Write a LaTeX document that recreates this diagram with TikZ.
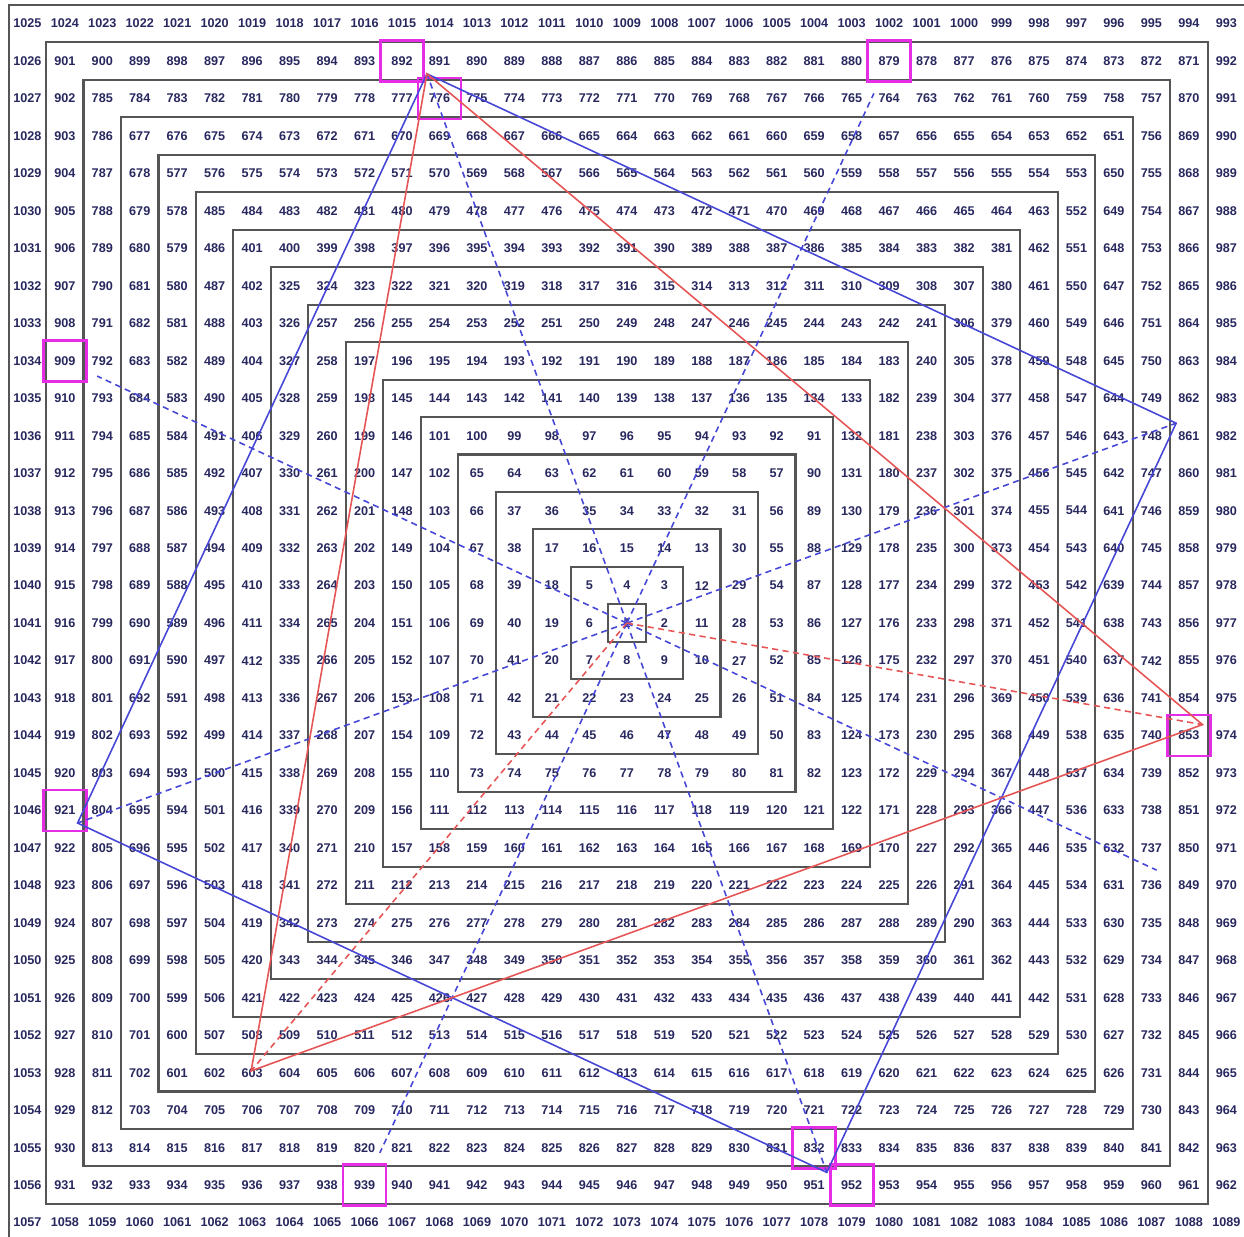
\documentclass[tikz,border=0pt]{standalone}
\usepackage{fontspec}
\setmainfont{Liberation Sans}
\usepackage{tikz}
\usetikzlibrary{calc}

\definecolor{numcol}{RGB}{40,40,95}
\definecolor{ringcol}{RGB}{85,85,85}
\definecolor{sqblue}{RGB}{70,70,215}
\definecolor{trired}{RGB}{230,85,85}
\definecolor{hlmag}{RGB}{230,45,230}

\begin{document}
\begin{tikzpicture}[
    x=0.75cm, y=0.75cm,
    num/.style={font=\fontsize{7.2}{8}\selectfont\bfseries, text=numcol, inner sep=0pt},
    ring/.style={draw=ringcol, line width=1.2pt},
    hl/.style={draw=hlmag, line width=1.6pt, minimum width=0.86cm,
               minimum height=0.82cm, inner sep=0pt},
    sqside/.style={sqblue, line width=0.9pt},
    triside/.style={trired, line width=0.9pt},
    sqray/.style={sqblue, line width=0.9pt, dash pattern=on 3.5pt off 2.5pt},
    triray/.style={trired, line width=0.9pt, dash pattern=on 3.5pt off 2.5pt},
  ]
  \def\rad{15.6}
  \useasboundingbox (-16.73,-16.36) rectangle (16.47,16.63);
  \clip (-16.73,-16.36) rectangle (16.47,16.63);

  % one square between every two rings of the spiral
  \foreach \r in {0.5,1.5,...,16.5}
    \draw[ring] (-\r,-\r) rectangle (\r,\r);

  % spiral numbers, 1 in the middle, ring k ends with (2k+1)^2 bottom right
  \foreach \i in {-16,...,16} {
    \foreach \j in {-16,...,16} {
      \pgfmathtruncatemacro\k{max(abs(\i),abs(\j))}
      \pgfmathtruncatemacro\m{(2*\k-1)^2}
      \pgfmathtruncatemacro\n{(\i==\k && \j>-\k) ? \m+\k+(\j) :
        ((\j==\k) ? \m+3*\k-(\i) : ((\i==-\k) ? \m+5*\k-(\j) : \m+7*\k+(\i)))}
      \node[num] (n\n) at (\i,\j) {\n};
    }
  }

  % marked cells
  \foreach \c in {892,776,879,909,921,853,939,832,952}
    \node[hl] (h\c) at (n\c) {};

  % points on the circle: octagon (every 45 deg) and triangle (every 120 deg)
  \coordinate (O) at (0,0);
  \foreach \a in {0,...,7}
    \coordinate (v\a) at (20+45*\a:\rad);
  \coordinate (tP) at (230:\rad);
  \coordinate (tQ) at (350:\rad);

  % radii
  \foreach \a in {0,...,7}
    \draw[sqray] (O) -- (v\a);
  \draw[triray] (O) -- (tP);
  \draw[triray] (O) -- (tQ);

  % square and triangle
  \draw[sqside] (v2) -- (v0) -- (v6) -- (v4) -- cycle;
  \draw[triside] (v2) -- (tP) -- (tQ) -- cycle;
\end{tikzpicture}
\end{document}
